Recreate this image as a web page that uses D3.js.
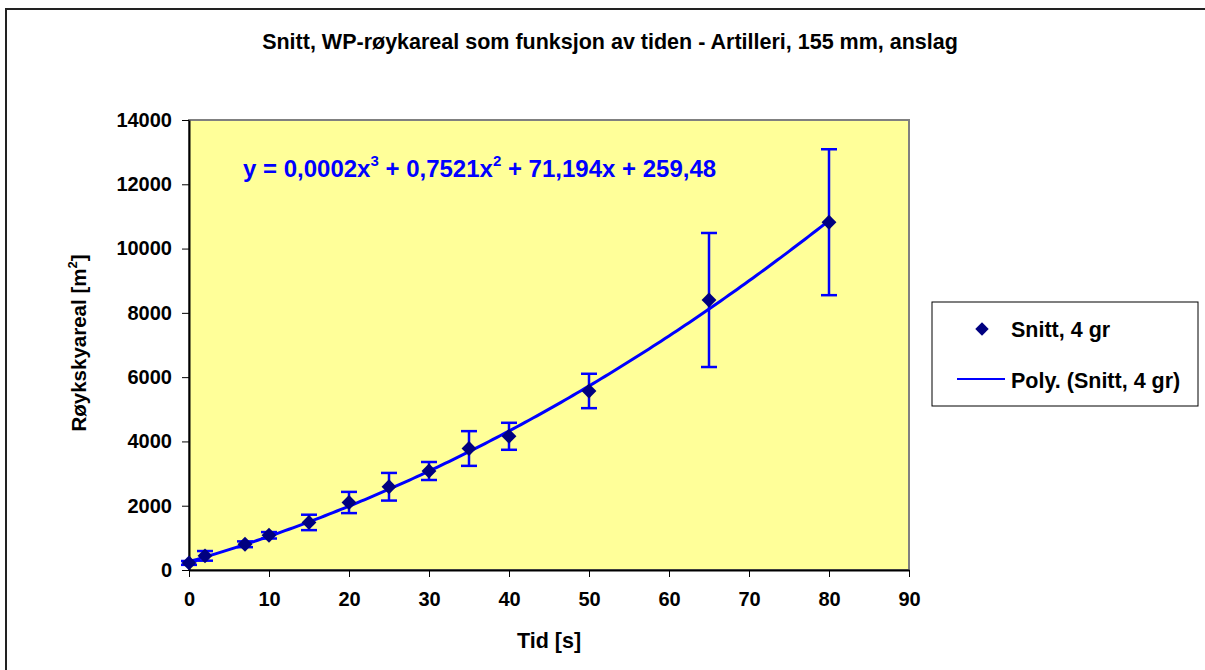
<!DOCTYPE html>
<html>
<head>
<meta charset="utf-8">
<script src="https://d3js.org/d3.v7.min.js"></script>
<style>
  body { margin: 0; background: #fff; }
  svg text { font-family: "Liberation Sans", Arial, sans-serif; font-weight: bold; }
  .axis path, .axis line { stroke: #000; }
</style>
</head>
<body>
<div id="graphe"></div>
<script>
//----------------------------------------------------------------
//  Données
//----------------------------------------------------------------
var temps = [0, 2, 7, 10, 15, 20, 25, 30, 35, 40, 50, 65, 80];
var snitt = [220, 440, 800, 1080, 1480, 2100, 2590, 3080, 3780, 4160, 5570, 8400, 10820];
var ecart = [60, 150, 90, 100, 240, 330, 430, 280, 540, 420, 535, 2085, 2270];

// coefficients de la tendance polynomiale (a0 + a1 x + a2 x² + a3 x³)
var coefPoly = [259.48, 71.194, 0.7521, 0.0002];

var ticksX = [0, 10, 20, 30, 40, 50, 60, 70, 80, 90];
var ticksY = [0, 2000, 4000, 6000, 8000, 10000, 12000, 14000];

var titre = "Snitt, WP-røykareal som funksjon av tiden - Artilleri, 155 mm, anslag";
var legendeNoms = ["Snitt, 4 gr", "Poly. (Snitt, 4 gr)"];

//----------------------------------------------------------------
//  Création du svg
//----------------------------------------------------------------
largeurSvg = 1205 ; hauteurSvg = 670;
var marges = {haut: 120, droite: 296, bas: 100, gauche: 189},
    largeur = largeurSvg - marges.gauche - marges.droite,
    hauteur = hauteurSvg - marges.haut - marges.bas;

var svg = d3.select("#graphe")
    .append("svg")
    .attr("width", largeurSvg)
    .attr("height", hauteurSvg);

// cadre extérieur
svg.append("rect")
    .attr("x", 6).attr("y", 9)
    .attr("width", 1230).attr("height", 700)
    .attr("fill", "none")
    .attr("stroke", "#222")
    .attr("stroke-width", 2);

svg.append("text")
    .attr("x", 610).attr("y", 49)
    .attr("text-anchor", "middle")
    .style("font-size", "21.5px")
    .text(titre);

var g = svg.append("g")
    .attr("transform", "translate(" + marges.gauche + "," + marges.haut + ")");

var x = d3.scaleLinear().domain([0, 90]).range([0, largeur]);
var y = d3.scaleLinear().domain([0, 14000]).range([hauteur, 0]);

// zone de tracé
g.append("rect")
    .attr("width", largeur).attr("height", hauteur)
    .attr("fill", "#FFFF99")
    .attr("stroke", "#808080")
    .attr("stroke-width", 2);

//----------------------------------------------------------------
//  Axes
//----------------------------------------------------------------
g.append("g")
    .attr("class", "axis axis--x")
    .attr("transform", "translate(0," + hauteur + ")")
    .call(d3.axisBottom(x).tickValues(ticksX).tickFormat(d3.format("d"))
        .tickSize(7).tickPadding(15).tickSizeOuter(0))
    .call(function(a){ a.selectAll("text").style("font-size", "20px").attr("fill", "#000"); })
    .call(function(a){ a.select(".domain").attr("stroke-width", 2).attr("stroke", "#444"); });

g.append("g")
    .attr("class", "axis axis--y")
    .call(d3.axisLeft(y).tickValues(ticksY).tickFormat(d3.format("d"))
        .tickSize(7).tickPadding(10).tickSizeOuter(0))
    .call(function(a){ a.selectAll("text").style("font-size", "20px").attr("fill", "#000"); })
    .call(function(a){ a.select(".domain").attr("stroke-width", 2).attr("stroke", "#444"); });

svg.append("text")
    .attr("x", 549).attr("y", 648)
    .attr("text-anchor", "middle")
    .style("font-size", "21.5px")
    .text("Tid [s]");

var titreY = svg.append("text")
    .attr("transform", "translate(86,343) rotate(-90)")
    .attr("text-anchor", "middle")
    .style("font-size", "20.5px");
titreY.append("tspan").text("Røykskyareal [m");
titreY.append("tspan").attr("dy", -9).style("font-size", "13px").text("2");
titreY.append("tspan").attr("dy", 9).text("]");

//----------------------------------------------------------------
//  Tendance polynomiale
//----------------------------------------------------------------
function poly(t){
    return coefPoly[0] + coefPoly[1]*t + coefPoly[2]*t*t + coefPoly[3]*t*t*t;
}
var xsCourbe = d3.range(0, 80.5, 0.5);
g.append("path")
    .datum(xsCourbe)
    .attr("fill", "none")
    .attr("stroke", "#0000FF")
    .attr("stroke-width", 3)
    .attr("d", d3.line()
        .x(function(d){ return x(d); })
        .y(function(d){ return y(poly(d)); }));

//----------------------------------------------------------------
//  Barres d'erreur et points
//----------------------------------------------------------------
var donnees = temps.map(function(t, i){ return {t: t, v: snitt[i], e: ecart[i]}; });

var barres = g.append("g").attr("stroke", "#0000FF").attr("stroke-width", 2.5)
    .selectAll("g").data(donnees).enter().append("g");
barres.append("line")
    .attr("x1", function(d){ return x(d.t); }).attr("x2", function(d){ return x(d.t); })
    .attr("y1", function(d){ return y(d.v + d.e); }).attr("y2", function(d){ return y(d.v - d.e); });
barres.append("line")
    .attr("x1", function(d){ return x(d.t) - 8; }).attr("x2", function(d){ return x(d.t) + 8; })
    .attr("y1", function(d){ return y(d.v + d.e); }).attr("y2", function(d){ return y(d.v + d.e); });
barres.append("line")
    .attr("x1", function(d){ return x(d.t) - 8; }).attr("x2", function(d){ return x(d.t) + 8; })
    .attr("y1", function(d){ return y(d.v - d.e); }).attr("y2", function(d){ return y(d.v - d.e); });

var losange = d3.symbol().type(d3.symbolSquare).size(110);
g.append("g").selectAll("path").data(donnees).enter().append("path")
    .attr("d", losange)
    .attr("fill", "#000080")
    .attr("transform", function(d){ return "translate(" + x(d.t) + "," + y(d.v) + ") rotate(45)"; });

//----------------------------------------------------------------
//  Equation
//----------------------------------------------------------------
var eq = svg.append("text")
    .attr("x", 243).attr("y", 177)
    .attr("fill", "#0000FF")
    .style("font-size", "24px");
eq.append("tspan").text("y = 0,0002x");
eq.append("tspan").attr("dy", -11).style("font-size", "15px").text("3");
eq.append("tspan").attr("dy", 11).text(" + 0,7521x");
eq.append("tspan").attr("dy", -11).style("font-size", "15px").text("2");
eq.append("tspan").attr("dy", 11).text(" + 71,194x + 259,48");

//----------------------------------------------------------------
//  Légende
//----------------------------------------------------------------
var leg = svg.append("g");
leg.append("rect")
    .attr("x", 932).attr("y", 302)
    .attr("width", 266).attr("height", 104)
    .attr("fill", "#fff")
    .attr("stroke", "#000")
    .attr("stroke-width", 1);
leg.append("path")
    .attr("d", d3.symbol().type(d3.symbolSquare).size(90))
    .attr("fill", "#000080")
    .attr("transform", "translate(982,329) rotate(45)");
leg.append("line")
    .attr("x1", 957).attr("x2", 1005).attr("y1", 379).attr("y2", 379)
    .attr("stroke", "#0000FF").attr("stroke-width", 2);
leg.selectAll("text.nom").data(legendeNoms).enter().append("text")
    .attr("class", "nom")
    .attr("x", 1011)
    .attr("y", function(d, i){ return 337 + i*51; })
    .style("font-size", "21.5px")
    .text(function(d){ return d; });
</script>
</body>
</html>
